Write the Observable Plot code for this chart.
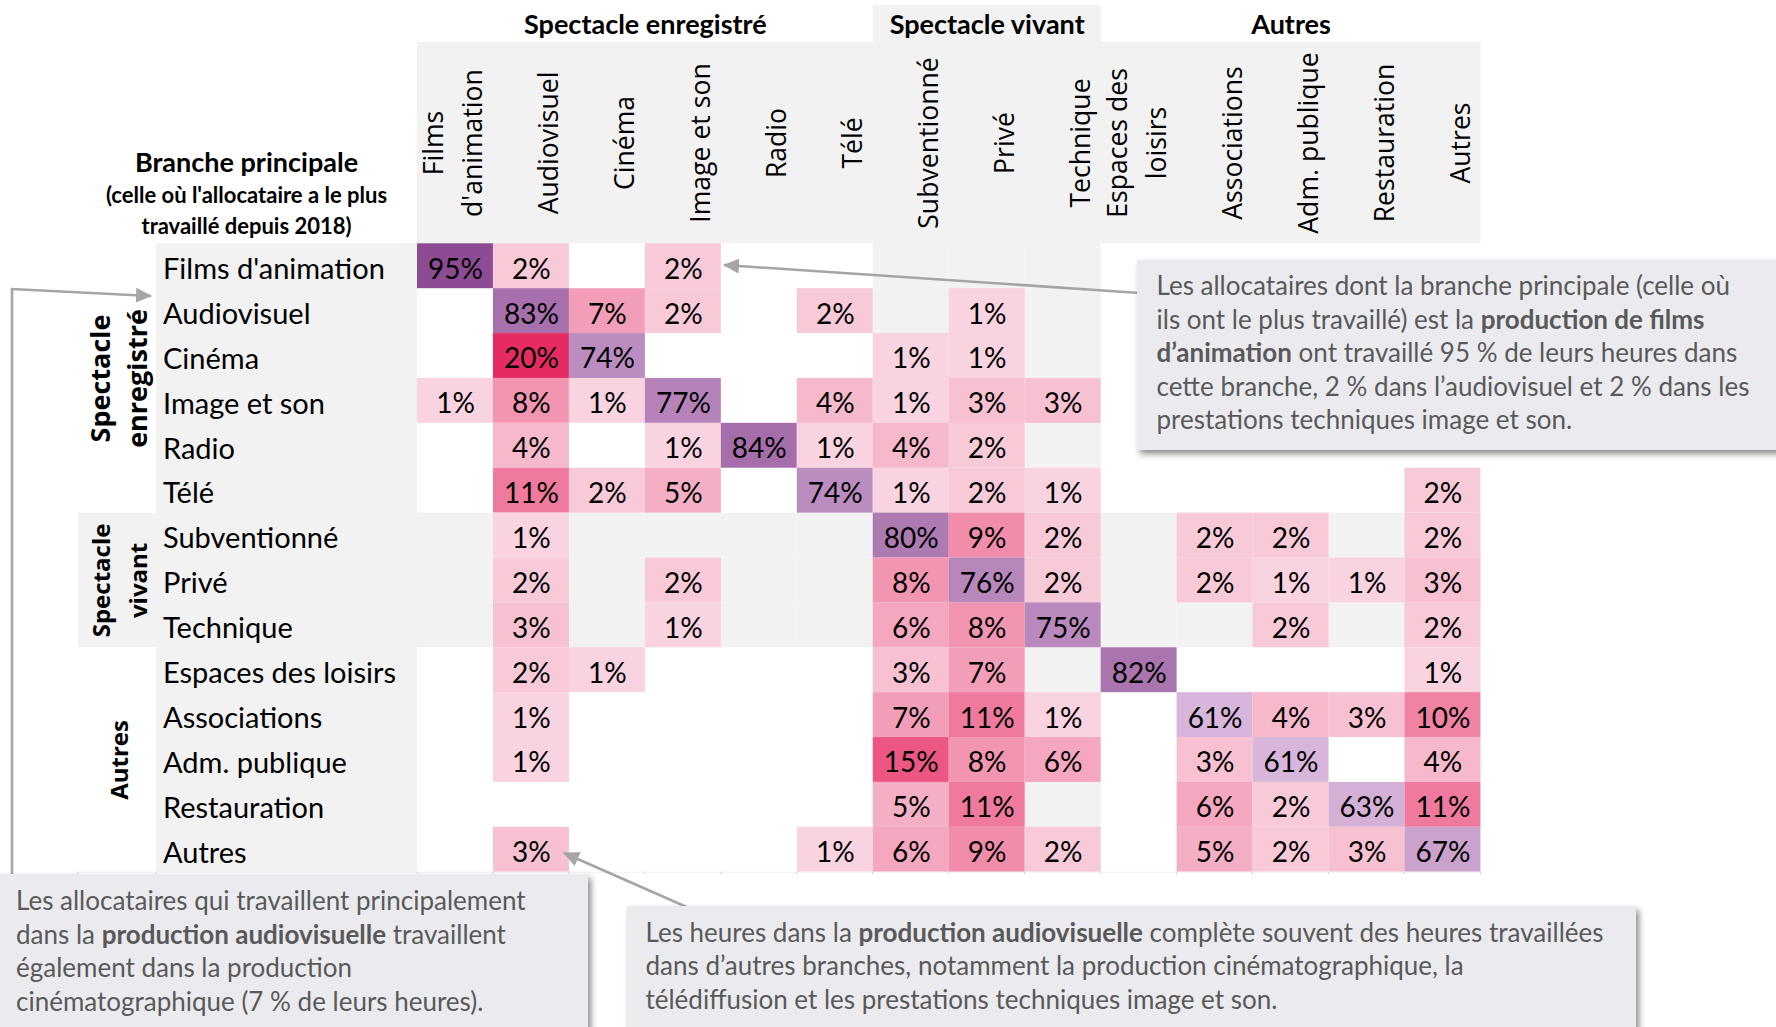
<!DOCTYPE html>
<html>
<head>
<meta charset="utf-8">
<script src="https://cdn.jsdelivr.net/npm/d3@7"></script>
<script src="https://cdn.jsdelivr.net/npm/@observablehq/plot@0.6"></script>
<style>
  html, body { margin: 0; padding: 0; background: #fff; }
  #chart { position: relative; width: 1776px; height: 1027px; overflow: hidden; }
</style>
</head>
<body>
<div id="chart"></div>
<script>
// ---------- categories ----------
const columns = ["Films d'animation", "Audiovisuel", "Cinéma", "Image et son", "Radio", "Télé",
  "Subventionné", "Privé", "Technique", "Espaces des loisirs", "Associations", "Adm. publique", "Restauration", "Autres"];
const columnLabels = ["Films\nd'animation", "Audiovisuel", "Cinéma", "Image et son", "Radio", "Télé",
  "Subventionné", "Privé", "Technique", "Espaces des\nloisirs", "Associations", "Adm. publique", "Restauration", "Autres"];
const rows = ["Films d'animation", "Audiovisuel", "Cinéma", "Image et son", "Radio", "Télé",
  "Subventionné", "Privé", "Technique", "Espaces des loisirs", "Associations", "Adm. publique", "Restauration", "Autres"];
const columnGroups = ["Spectacle enregistré", "Spectacle vivant", "Autres"];
const columnGroupSizes = [6, 3, 5];
const rowGroups = ["Spectacle\nenregistré", "Spectacle\nvivant", "Autres"];
const rowGroupSizes = [6, 3, 5];

// ---------- values (% of hours), one array per main branch, in `columns` order ----------
const filmsAnimation = [95, 2, null, 2, null, null, null, null, null, null, null, null, null, null];
const audiovisuel    = [null, 83, 7, 2, null, 2, null, 1, null, null, null, null, null, null];
const cinema         = [null, 20, 74, null, null, null, 1, 1, null, null, null, null, null, null];
const imageEtSon     = [1, 8, 1, 77, null, 4, 1, 3, 3, null, null, null, null, null];
const radio          = [null, 4, null, 1, 84, 1, 4, 2, null, null, null, null, null, null];
const tele           = [null, 11, 2, 5, null, 74, 1, 2, 1, null, null, null, null, 2];
const subventionne   = [null, 1, null, null, null, null, 80, 9, 2, null, 2, 2, null, 2];
const prive          = [null, 2, null, 2, null, null, 8, 76, 2, null, 2, 1, 1, 3];
const technique      = [null, 3, null, 1, null, null, 6, 8, 75, null, null, 2, null, 2];
const espacesLoisirs = [null, 2, 1, null, null, null, 3, 7, null, 82, null, null, null, 1];
const associations   = [null, 1, null, null, null, null, 7, 11, 1, null, 61, 4, 3, 10];
const admPublique    = [null, 1, null, null, null, null, 15, 8, 6, null, 3, 61, null, 4];
const restauration   = [null, null, null, null, null, null, 5, 11, null, null, 6, 2, 63, 11];
const autres         = [null, 3, null, null, null, 1, 6, 9, 2, null, 5, 2, 3, 67];

// ---------- annotation texts ----------
const note1 = [
  [["Les allocataires dont la branche principale (celle où", false]],
  [["ils ont le plus travaillé) est la ", false], ["production de films", true]],
  [["d’animation", true], [" ont travaillé 95 % de leurs heures dans", false]],
  [["cette branche, 2 % dans l’audiovisuel et 2 % dans les", false]],
  [["prestations techniques image et son.", false]]
];
const note2 = [
  [["Les allocataires qui travaillent principalement", false]],
  [["dans la ", false], ["production audiovisuelle", true], [" travaillent", false]],
  [["également dans la production", false]],
  [["cinématographique (7 % de leurs heures).", false]]
];
const note3 = [
  [["Les heures dans la ", false], ["production audiovisuelle", true], [" complète souvent des heures travaillées", false]],
  [["dans d’autres branches, notamment la production cinématographique, la", false]],
  [["télédiffusion et les prestations techniques image et son.", false]]
];

// ---------- derived tables ----------
const branchValues = [filmsAnimation, audiovisuel, cinema, imageEtSon, radio, tele, subventionne,
  prive, technique, espacesLoisirs, associations, admPublique, restauration, autres];
const expand = sizes => sizes.flatMap((n, g) => Array(n).fill(g));
const rowGroupIndex = expand(rowGroupSizes);
const colGroupIndex = expand(columnGroupSizes);
const cells = rows.flatMap((r, i) => columns.map((c, j) => ({row: r, col: c, value: branchValues[i][j]})))
  .filter(d => d.value != null);
const shaded = rows.flatMap((r, i) => columns.map((c, j) => ({row: r, col: c, on: rowGroupIndex[i] === 1 || colGroupIndex[j] === 1})))
  .filter(d => d.on);

// ---------- layout ----------
const W = 1776, H = 1027;
const gridLeft = 417, gridTop = 243.3, colW = 75.96, rowH = 44.886;
const gridRight = gridLeft + colW * columns.length;
const gridBottom = gridTop + rowH * rows.length;
const GRAY = "#f2f2f2";
const rowGroupFontSizes = [27, 24, 24];

function groupMid(sizes, g) {
  const start = sizes.slice(0, g).reduce((a, b) => a + b, 0);
  const m = start + (sizes[g] - 1) / 2;
  return {index: Math.floor(m), frac: m - Math.floor(m)};
}

const colGroupMarks = columnGroups.map((name, g) => {
  const {index, frac} = groupMid(columnGroupSizes, g);
  return Plot.text([columns[index]], {
    x: d => d, text: () => name, frameAnchor: "top", dx: frac * colW, dy: 33 - gridTop,
    lineAnchor: "bottom", textAnchor: "middle", fontFamily: "Lato", fontWeight: "bold", fontSize: 27, fill: "#000"
  });
});
const rowGroupMarks = rowGroups.map((name, g) => {
  const {index, frac} = groupMid(rowGroupSizes, g);
  const fs = rowGroupFontSizes[g];
  return Plot.text([rows[index]], {
    y: d => d, text: () => name, frameAnchor: "left", dx: 116 - gridLeft, dy: frac * rowH,
    rotate: -90, lineAnchor: "middle", textAnchor: "middle", lineHeight: 37 / fs,
    fontFamily: "Open Sans", fontWeight: "bold", fontSize: fs, fill: "#000"
  });
});

const chart = Plot.plot({
  width: W,
  height: H,
  marginLeft: gridLeft,
  marginTop: gridTop,
  marginRight: W - gridRight,
  marginBottom: H - gridBottom,
  style: {background: "transparent", overflow: "visible"},
  x: {domain: columns, padding: 0, round: false, axis: null},
  y: {domain: rows, padding: 0, round: false, axis: null},
  color: {type: "linear", domain: [1, 20, 61, 95], range: ["#f9d3df", "#e62a62", "#d8b5da", "#8d4b93"], clamp: true},
  marks: [
    Plot.cell(shaded, {x: "col", y: "row", fill: GRAY}),
    Plot.cell(cells, {x: "col", y: "row", fill: "value"}),
    Plot.text(cells, {x: "col", y: "row", text: d => d.value + "%", fill: "#000",
      fontFamily: "Lato", fontSize: 28, dy: 3.5}),
    Plot.text(columns, {x: d => d, text: (d, i) => columnLabels[i], frameAnchor: "top",
      dy: 142.5 - gridTop, dx: colW / 2 - 11, rotate: -90, lineAnchor: "bottom", textAnchor: "middle",
      lineHeight: 1.48, fontFamily: "Open Sans", fontSize: 26.6, fill: "#000"}),
    Plot.text(rows, {y: d => d, text: d => d, frameAnchor: "left", dx: 162.5 - gridLeft, dy: 3.5,
      textAnchor: "start", fontFamily: "Lato", fontSize: 29, fill: "#000"}),
    Plot.text(["Branche principale"], {frameAnchor: "top-left", dx: 246 - gridLeft, dy: 171 - gridTop,
      lineAnchor: "bottom", textAnchor: "middle", fontFamily: "Lato", fontWeight: "bold", fontSize: 27, fill: "#000"}),
    Plot.text(["(celle où l'allocataire a le plus\ntravaillé depuis 2018)"], {frameAnchor: "top-left",
      dx: 246 - gridLeft, dy: 233 - gridTop, lineAnchor: "bottom", textAnchor: "middle", lineHeight: 1.4,
      fontFamily: "Lato", fontWeight: "bold", fontSize: 22, fill: "#000"}),
    ...colGroupMarks,
    ...rowGroupMarks
  ]
});

document.getElementById("chart").appendChild(chart);

// ---------- background panels (behind the grid) ----------
const svg = d3.select(chart);
const bg = svg.insert("g", ":first-child").attr("class", "panels");
const svColX = gridLeft + colW * 6, svColW = colW * 3;
const svRowY = gridTop + rowH * 6, svRowH = rowH * 3;
bg.append("rect").attr("x", 0).attr("y", 0).attr("width", W).attr("height", H).attr("fill", "#fff");
bg.append("rect").attr("x", gridLeft).attr("y", 42).attr("width", gridRight - gridLeft).attr("height", gridTop - 42).attr("fill", GRAY);
bg.append("rect").attr("x", svColX).attr("y", 5).attr("width", svColW).attr("height", gridTop - 5).attr("fill", GRAY);
bg.append("rect").attr("x", 156).attr("y", gridTop).attr("width", gridLeft - 156).attr("height", gridBottom - gridTop).attr("fill", GRAY);
bg.append("rect").attr("x", 78).attr("y", svRowY).attr("width", 156 - 78).attr("height", svRowH).attr("fill", GRAY);

// faint bottom rule with ticks
const rule = svg.append("g").attr("stroke", "#d9d9d9").attr("stroke-width", 1);
rule.append("line").attr("x1", 78).attr("x2", gridRight).attr("y1", gridBottom + 0.5).attr("y2", gridBottom + 0.5).attr("stroke", "#f0f0f0");
[78, 156, ...d3.range(columns.length + 1).map(k => gridLeft + k * colW)].forEach(x => {
  rule.append("line").attr("x1", x).attr("x2", x).attr("y1", gridBottom).attr("y2", gridBottom + 3);
});

// ---------- annotations ----------
const defs = svg.append("defs");
const f = defs.append("filter").attr("id", "shadow").attr("x", "-10%").attr("y", "-10%").attr("width", "130%").attr("height", "140%");
f.append("feDropShadow").attr("dx", 3).attr("dy", 4).attr("stdDeviation", 3).attr("flood-color", "#000").attr("flood-opacity", 0.45);
defs.append("marker").attr("id", "arrow").attr("markerUnits", "userSpaceOnUse")
  .attr("markerWidth", 16).attr("markerHeight", 16).attr("refX", 15).attr("refY", 8).attr("orient", "auto")
  .append("path").attr("d", "M0,0.5 L16,8 L0,15.5 Z").attr("fill", "#a5a5a5");

const ARROW = "#a5a5a5";
const arrows = svg.append("g").attr("fill", "none").attr("stroke", ARROW).attr("stroke-width", 2.6);
arrows.append("polyline").attr("points", "1140,293 724,265").attr("marker-end", "url(#arrow)");
arrows.append("polyline").attr("points", "12,880 12,289 151,296").attr("marker-end", "url(#arrow)");
arrows.append("polyline").attr("points", "698,912 564,853").attr("marker-end", "url(#arrow)");

function noteBox(x, y, w, h, textX, baselines, lines) {
  const g = svg.append("g");
  g.append("rect").attr("x", x).attr("y", y).attr("width", w).attr("height", h)
    .attr("fill", "#ebebef").attr("filter", "url(#shadow)");
  const t = g.append("text").attr("font-family", "Lato").attr("font-size", 26).attr("fill", "#595959")
    .attr("text-anchor", "start");
  lines.forEach((segs, i) => {
    const line = t.append("tspan").attr("x", textX).attr("y", baselines[i]);
    segs.forEach(([s, b]) => line.append("tspan").attr("font-weight", b ? "bold" : null).text(s));
  });
}
noteBox(1137, 260, 700, 190, 1156.5, [295, 328.5, 362, 395.5, 429], note1);
noteBox(-10, 874, 598, 200, 16, [910, 943.5, 977, 1010.5], note2);
noteBox(627, 906, 1009, 160, 645.5, [941.5, 975, 1008.5], note3);
</script>
</body>
</html>
